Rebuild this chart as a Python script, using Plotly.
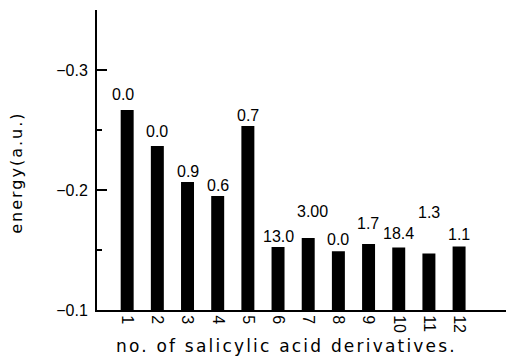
import plotly.graph_objects as go

categories = [str(i) for i in range(1, 13)]
energies = [-0.2667, -0.2367, -0.2067, -0.1950, -0.2533, -0.1525,
            -0.1600, -0.1490, -0.1550, -0.1520, -0.1470, -0.1530]
bar_labels = ["0.0", "0.0", "0.9", "0.6", "0.7", "13.0",
              "3.00", "0.0", "1.7", "18.4", "1.3", "1.1"]
label_offsets = [15, 14, 10, 11, 11, 11, 27, 12, 21, 14, 41, 12]
label_xshift = [-4, 0, 0, 0, 0, 0, 4, 0, -1, 0, 0, 0]

y_ticks = [-0.3, -0.2, -0.1]
y_ticktext = ["\u22120.3", "\u22120.2", "\u22120.1"]
y_minor = [-0.25, -0.15]

y_title = "energy(a.u.)"
x_title = "no. of salicylic acid derivatives."

xpos = list(range(1, 13))

fig = go.Figure()
fig.add_trace(go.Bar(
    x=xpos, y=energies, marker=dict(color="black", line=dict(width=0)),
    width=0.43,
))

for x, y, t, dy, dx in zip(xpos, energies, bar_labels, label_offsets, label_xshift):
    fig.add_annotation(x=x, y=y, text=t, showarrow=False, yanchor="middle",
                       yshift=dy, xshift=dx,
                       font=dict(family="Liberation Sans", size=16, color="black"))

fig.add_annotation(xref="paper", yref="paper", x=-0.192, y=0.457,
                   xanchor="center", yanchor="middle",
                   text='<span style="letter-spacing:2px">' + y_title + '</span>',
                   textangle=-90, showarrow=False,
                   font=dict(family="DejaVu Sans", size=16, color="black"))
fig.add_annotation(xref="paper", yref="paper", x=0.455, y=-0.12,
                   xanchor="center", yanchor="middle",
                   text='<span style="letter-spacing:2.2px">' + x_title + '</span>',
                   showarrow=False,
                   font=dict(family="DejaVu Sans", size=17, color="black"))

fig.update_layout(
    width=506, height=350,
    margin=dict(l=89, r=0, t=2, b=48),
    paper_bgcolor="white", plot_bgcolor="white",
    showlegend=False,
    xaxis=dict(range=[0.0, 13.82], tickvals=xpos, ticktext=categories,
               tickangle=90, ticks="", showgrid=False, zeroline=False,
               showline=True, linecolor="black", linewidth=2,
               tickfont=dict(family="Liberation Sans", size=16, color="black")),
    yaxis=dict(range=[-0.1, -0.35], tickvals=y_ticks, ticktext=y_ticktext,
               ticks="inside", ticklen=10, tickwidth=2, tickcolor="black",
               minor=dict(tickvals=y_minor, ticks="inside", ticklen=5,
                          tickwidth=1.5, tickcolor="black"),
               showgrid=False, zeroline=False,
               showline=True, linecolor="black", linewidth=2,
               ticklabelstandoff=4,
               tickfont=dict(family="Liberation Sans", size=16, color="black")),
)

fig.write_html("out.html")
